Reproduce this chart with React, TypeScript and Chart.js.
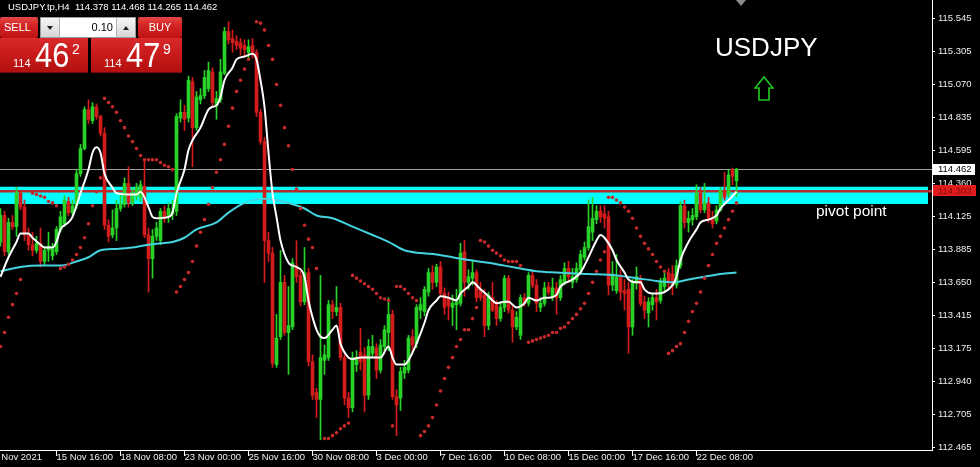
import React, { useEffect, useRef } from 'react';
import { Chart, registerables } from 'chart.js';

Chart.register(...registerables);

// ---------------- DATA ----------------
const chartName = 'USDJPY.tp,H4';
const symbolTitle = 'USDJPY';
const pivotLabel = 'pivot point';

const opens = [
  113.94, 114.13, 113.87, 114.08, 114.05, 114.29, 114.19, 113.99, 113.92, 113.88,
  113.93, 113.80, 113.88, 113.84, 113.87, 114.03, 114.07, 114.23, 114.15, 114.20,
  114.43, 114.61, 114.89, 114.81, 114.91, 114.84, 114.72, 114.06, 113.99, 114.04,
  114.18, 114.21, 114.36, 114.22, 114.27, 114.26, 114.34, 113.99, 113.82, 113.98,
  113.95, 114.16, 114.13, 114.14, 114.16, 114.83, 114.87, 114.83, 115.09, 114.76,
  114.96, 114.99, 115.04, 115.16, 114.92, 114.96, 115.15, 115.45, 115.40, 115.38,
  115.37, 115.35, 115.30, 115.35, 115.30, 114.87, 114.66, 113.95, 113.86, 113.06,
  113.26, 113.65, 113.29, 113.33, 113.77, 113.70, 113.51, 113.72, 113.08, 112.86,
  112.81, 113.09, 113.11, 113.49, 113.44, 113.47, 113.11, 112.82, 112.75, 113.06,
  113.15, 113.13, 112.84, 113.14, 113.18, 113.02, 113.19, 113.29, 113.42, 112.83,
  112.82, 113.00, 113.02, 113.26, 113.21, 113.45, 113.44, 113.58, 113.72, 113.65,
  113.76, 113.57, 113.54, 113.47, 113.49, 113.50, 113.87, 113.65, 113.68, 113.72,
  113.60, 113.56, 113.34, 113.54, 113.49, 113.39, 113.47, 113.68, 113.45, 113.33,
  113.27, 113.54, 113.50, 113.70, 113.63, 113.47, 113.50, 113.62, 113.55, 113.61,
  113.54, 113.65, 113.75, 113.65, 113.67, 113.74, 113.83, 113.90, 114.01, 114.10,
  114.16, 114.14, 114.12, 113.63, 113.59, 113.69, 113.59, 113.60, 113.33, 113.65,
  113.67, 113.51, 113.43, 113.49, 113.54, 113.52, 113.62, 113.72, 113.71, 113.63,
  113.77, 114.20, 114.08, 114.10, 114.12, 114.29, 114.17, 114.22, 114.11, 114.09,
  114.17, 114.31, 114.28, 114.46, 114.378,
];
const highs = [
  114.18, 114.16, 114.11, 114.13, 114.33, 114.31, 114.24, 114.04, 114.01, 113.98,
  114.04, 113.91, 114.01, 113.93, 114.05, 114.16, 114.27, 114.26, 114.24, 114.46,
  114.64, 114.91, 114.96, 114.94, 114.93, 114.85, 114.76, 114.10, 114.17, 114.24,
  114.28, 114.40, 114.48, 114.33, 114.36, 114.38, 114.53, 114.04, 114.03, 114.08,
  114.18, 114.20, 114.22, 114.24, 114.86, 114.96, 114.92, 115.13, 115.12, 115.02,
  115.04, 115.17, 115.23, 115.19, 115.02, 115.25, 115.48, 115.52, 115.46, 115.42,
  115.40, 115.39, 115.39, 115.40, 115.32, 114.89, 114.69, 114.01, 113.90, 113.42,
  113.88, 113.70, 113.62, 113.82, 113.95, 113.75, 113.90, 113.75, 113.13, 112.89,
  113.70, 113.20, 113.52, 113.52, 113.62, 113.50, 113.13, 112.86, 113.15, 113.16,
  113.32, 113.18, 113.24, 113.27, 113.21, 113.24, 113.34, 113.54, 113.45, 112.88,
  113.04, 113.09, 113.27, 113.31, 113.49, 113.54, 113.62, 113.75, 113.77, 113.78,
  113.80, 113.61, 113.58, 113.56, 113.60, 113.93, 113.95, 113.74, 113.81, 113.74,
  113.65, 113.60, 113.58, 113.65, 113.52, 113.50, 113.70, 113.70, 113.49, 113.44,
  113.56, 113.57, 113.72, 113.74, 113.67, 113.54, 113.65, 113.65, 113.68, 113.65,
  113.70, 113.79, 113.80, 113.75, 113.79, 113.88, 113.94, 114.24, 114.26, 114.20,
  114.20, 114.20, 114.16, 113.80, 113.85, 113.74, 113.67, 113.65, 113.67, 113.76,
  113.70, 113.55, 113.54, 113.57, 113.60, 113.68, 113.72, 113.75, 113.77, 113.81,
  114.23, 114.24, 114.16, 114.18, 114.35, 114.33, 114.36, 114.26, 114.16, 114.20,
  114.33, 114.44, 114.46, 114.47, 114.468,
];
const lows = [
  113.91, 113.84, 113.85, 114.03, 113.98, 114.17, 113.95, 113.88, 113.84, 113.86,
  113.76, 113.77, 113.80, 113.81, 113.85, 114.01, 114.05, 114.13, 114.13, 114.18,
  114.41, 114.60, 114.79, 114.79, 114.82, 114.70, 114.03, 113.94, 113.97, 113.95,
  114.16, 114.19, 114.19, 114.20, 114.24, 114.23, 113.97, 113.58, 113.68, 113.95,
  113.92, 114.08, 114.08, 114.10, 114.13, 114.80, 114.74, 114.80, 114.48, 114.74,
  114.93, 114.97, 115.02, 114.92, 114.82, 114.94, 115.14, 115.36, 115.30, 115.32,
  115.28, 115.27, 115.26, 115.26, 114.84, 114.64, 113.65, 113.80, 113.04, 113.04,
  113.24, 113.27, 112.99, 113.31, 113.65, 113.48, 113.49, 113.05, 112.81, 112.68,
  112.52, 112.99, 113.09, 113.39, 113.41, 113.09, 112.77, 112.68, 112.72, 113.01,
  113.02, 112.72, 112.81, 113.11, 112.96, 113.00, 113.16, 113.16, 112.81, 112.55,
  112.73, 112.96, 113.00, 113.15, 113.18, 113.39, 113.41, 113.55, 113.60, 113.62,
  113.55, 113.42, 113.38, 113.34, 113.31, 113.48, 113.55, 113.60, 113.63, 113.51,
  113.52, 113.26, 113.31, 113.44, 113.34, 113.37, 113.44, 113.43, 113.22, 113.31,
  113.24, 113.48, 113.48, 113.61, 113.44, 113.44, 113.48, 113.56, 113.52, 113.42,
  113.52, 113.63, 113.65, 113.61, 113.65, 113.72, 113.81, 113.88, 113.95, 114.07,
  114.08, 114.04, 113.56, 113.59, 113.57, 113.52, 113.45, 113.14, 113.27, 113.60,
  113.48, 113.39, 113.33, 113.45, 113.38, 113.50, 113.58, 113.60, 113.56, 113.61,
  113.75, 114.04, 114.01, 114.06, 114.10, 114.15, 114.15, 114.08, 114.04, 114.07,
  114.16, 114.24, 114.26, 114.35, 114.265,
];
const closes = [
  114.13, 113.87, 114.08, 114.05, 114.29, 114.19, 113.99, 113.92, 113.88, 113.93,
  113.80, 113.88, 113.91, 113.89, 114.03, 114.12, 114.24, 114.15, 114.20, 114.43,
  114.61, 114.89, 114.82, 114.91, 114.84, 114.72, 114.06, 113.98, 114.04, 114.18,
  114.21, 114.36, 114.22, 114.29, 114.33, 114.35, 113.99, 113.82, 113.98, 114.04,
  114.16, 114.11, 114.18, 114.16, 114.84, 114.87, 114.82, 115.10, 114.76, 114.98,
  114.99, 115.12, 115.17, 114.94, 114.97, 115.16, 115.45, 115.39, 115.37, 115.35,
  115.33, 115.32, 115.34, 115.30, 114.87, 114.66, 113.95, 113.86, 113.07, 113.25,
  113.65, 113.29, 113.34, 113.79, 113.69, 113.51, 113.72, 113.08, 112.84, 112.81,
  113.11, 113.13, 113.49, 113.44, 113.47, 113.11, 112.82, 112.75, 113.11, 113.11,
  113.08, 112.84, 113.19, 113.19, 113.02, 113.20, 113.31, 113.42, 112.83, 112.77,
  113.01, 113.04, 113.25, 113.20, 113.47, 113.49, 113.60, 113.72, 113.65, 113.76,
  113.57, 113.47, 113.48, 113.50, 113.51, 113.86, 113.65, 113.69, 113.72, 113.54,
  113.54, 113.34, 113.56, 113.45, 113.39, 113.47, 113.68, 113.45, 113.33, 113.40,
  113.54, 113.50, 113.70, 113.63, 113.50, 113.50, 113.61, 113.58, 113.61, 113.54,
  113.67, 113.75, 113.69, 113.69, 113.75, 113.85, 113.90, 114.05, 114.11, 114.16,
  114.12, 114.11, 113.63, 113.71, 113.69, 113.58, 113.57, 113.33, 113.65, 113.69,
  113.50, 113.45, 113.51, 113.54, 113.51, 113.65, 113.68, 113.65, 113.63, 113.77,
  114.20, 114.08, 114.11, 114.13, 114.29, 114.17, 114.22, 114.11, 114.07, 114.17,
  114.31, 114.26, 114.42, 114.41, 114.462,
];

// Parabolic SAR dots (null = no dot visible)
const sarValues = [
  113.19, 113.29, 113.40, 113.49, 113.57, 113.67, null, null, 114.29, 114.28,
  114.27, 114.26, 114.23, 114.22, 114.20, 113.75, 113.76, 113.78, 113.81, 113.85,
  113.90, 113.97, 114.07, 114.20, 114.30, 114.40, 114.97, 114.94, 114.91, 114.87,
  114.81, 114.76, 114.70, 114.66, 114.61, 114.56, 114.53, 114.53, 114.53, 114.53,
  114.51, 114.49, 114.48, 114.46, 113.58, 113.62, 113.67, 113.72, 113.80, 113.91,
  114.01, 114.10, 114.21, 114.33, 114.44, 114.53, 114.64, 114.77, 114.90, 115.02,
  115.10, 115.18, 115.25, null, 115.52, 115.51, 115.46, 115.35, 115.25, 115.07,
  114.92, 114.76, 114.63, 114.46, 114.32, 114.18, 114.06, 113.96, 113.90, 113.75,
  null, 112.53, 112.53, 112.55, 112.57, 112.60, 112.62, 112.64, 113.70, 113.68,
  113.66, 113.64, 113.62, 113.60, 113.57, 113.54, 113.53, 113.52, 112.62, 113.62,
  113.62, 113.60, 113.57, 113.54, 113.52, 112.55, 112.58, 112.62, 112.68, 112.77,
  112.87, 112.96, 113.04, 113.11, 113.19, 113.24, 113.31, 113.31, 113.39, 113.47,
  113.95, 113.94, 113.91, 113.88, 113.86, 113.84, 113.81, 113.80, 113.80, 113.80,
  113.77, null, 113.22, 113.23, 113.24, 113.25, 113.26, 113.27, 113.29, 113.29,
  113.32, 113.33, 113.36, 113.39, 113.42, 113.46, 113.50, 113.57, 113.65, 113.73,
  113.81, 113.87, 114.26, 114.26, 114.24, 114.22, 114.19, 114.16, 114.11, 114.04,
  113.98, 113.93, 113.89, 113.85, 113.80, 113.76, 113.73, 113.14, 113.16, 113.19,
  113.21, 113.29, 113.37, 113.44, 113.50, 113.58, 113.68, 113.77, 113.85, 113.93,
  113.98, 114.04, 114.10, 114.16, 114.22,
];

// Fast moving average (white), read at these bar indices
const fastMaBars = [
  0, 2, 4, 5, 7, 8, 10, 11, 13, 14, 15, 17, 18, 20, 22, 23, 24, 25, 26, 28,
  29, 32, 34, 35, 37, 38, 39, 42, 43, 44, 46, 47, 48, 50, 52, 53, 54, 55, 56, 58,
  59, 61, 63, 64, 65, 66, 67, 68, 69, 70, 72, 73, 74, 76, 77, 79, 80, 81, 83, 84,
  85, 87, 88, 90, 92, 95, 97, 98, 99, 101, 102, 104, 106, 107, 109, 110, 112, 114, 115, 117,
  118, 120, 122, 123, 124, 126, 127, 129, 131, 132, 134, 136, 137, 139, 140, 143, 145, 147, 149, 150,
  151, 153, 154, 156, 157, 159, 160, 161, 163, 164, 166, 168, 169, 170, 172, 174, 175, 177, 179, 180,
  182, 184,
];
const fastMaValues = [
  113.69, 113.83, 113.94, 114.00, 114.00, 113.97, 113.92, 113.90, 113.90, 113.94,
  114.03, 114.08, 114.12, 114.29, 114.46, 114.58, 114.62, 114.58, 114.43, 114.33,
  114.29, 114.28, 114.28, 114.30, 114.19, 114.12, 114.11, 114.12, 114.15, 114.29,
  114.46, 114.60, 114.67, 114.76, 114.89, 114.91, 114.92, 114.98, 115.10, 115.19,
  115.25, 115.27, 115.29, 115.25, 115.10, 114.91, 114.58, 114.29, 114.12, 113.95,
  113.79, 113.77, 113.76, 113.69, 113.52, 113.31, 113.26, 113.25, 113.31, 113.34,
  113.21, 113.11, 113.10, 113.11, 113.11, 113.11, 113.19, 113.11, 113.06, 113.06,
  113.09, 113.21, 113.36, 113.45, 113.52, 113.55, 113.54, 113.52, 113.57, 113.62,
  113.65, 113.60, 113.55, 113.52, 113.50, 113.51, 113.51, 113.47, 113.50, 113.54,
  113.52, 113.54, 113.54, 113.56, 113.62, 113.67, 113.72, 113.83, 113.95, 113.99,
  113.97, 113.88, 113.81, 113.72, 113.67, 113.65, 113.65, 113.60, 113.57, 113.57,
  113.58, 113.63, 113.69, 113.81, 113.94, 114.03, 114.08, 114.10, 114.13, 114.18,
  114.24, 114.30,
];

// Slow moving average (cyan)
const slowMaBars = [
  0, 5, 10, 15, 19, 22, 25, 29, 33, 37, 40, 43, 46, 49, 54, 57, 61, 66, 72, 76,
  79, 83, 88, 93, 97, 101, 105, 109, 113, 117, 122, 126, 130, 134, 139, 147, 154, 159, 164, 168,
  172, 176, 180, 184,
];
const slowMaValues = [
  113.73, 113.76, 113.77, 113.77, 113.80, 113.83, 113.88, 113.89, 113.90, 113.92,
  113.93, 113.94, 113.97, 114.03, 114.08, 114.15, 114.22, 114.25, 114.22, 114.18,
  114.13, 114.11, 114.05, 113.99, 113.94, 113.88, 113.86, 113.85, 113.83, 113.81,
  113.79, 113.77, 113.75, 113.73, 113.72, 113.71, 113.70, 113.68, 113.66, 113.65,
  113.67, 113.69, 113.71, 113.72,
];

const priceTicks = [
  115.545, 115.305, 115.07, 114.835, 114.595, 114.36, 114.125,
  113.885, 113.65, 113.415, 113.175, 112.94, 112.705, 112.465,
];
const timeTickBars = [-3.1, 14, 30, 46, 62, 78, 94, 110, 126, 142, 158, 174];
const timeTickLabels = [
  '12 Nov 2021', '15 Nov 16:00', '18 Nov 08:00', '23 Nov 00:00', '25 Nov 16:00',
  '30 Nov 08:00', '3 Dec 00:00', '7 Dec 16:00', '10 Dec 08:00', '15 Dec 00:00',
  '17 Dec 16:00', '22 Dec 08:00',
];

const pivotZone = [114.212, 114.336];
const pivotLevel = 114.303;
const bidPrice = 114.462;
const askPrice = 114.479;
const lotSize = '0.10';

const yMin = 112.447;
const yMax = 115.676;
const xMin = -0.125;
const xMax = 232.875;

// ---------------- STYLE ----------------
const FONT = '"Liberation Sans", Arial, sans-serif';
const BULL = '#28d228';
const BEAR = '#d41c1c';
const SAR_COLOR = '#c62a2a';
const FAST_COLOR = '#ffffff';
const SLOW_COLOR = '#45d3df';
const AXIS_COLOR = '#ffffff';
const TEXT_COLOR = '#eeeeee';

const overlayPlugin = {
  id: 'mtOverlay',
  beforeDraw(chart: any) {
    const { ctx, width, height } = chart;
    ctx.save();
    ctx.fillStyle = '#000000';
    ctx.fillRect(0, 0, width, height);
    ctx.restore();
  },
  beforeDatasetsDraw(chart: any) {
    const { ctx, chartArea } = chart;
    const y = chart.scales.y;
    const top = y.getPixelForValue(pivotZone[1]);
    const bot = y.getPixelForValue(pivotZone[0]);
    ctx.save();
    ctx.fillStyle = '#00ffff';
    ctx.fillRect(chartArea.left, top, chartArea.right - chartArea.left - 4, bot - top);
    const by = Math.round(y.getPixelForValue(bidPrice)) + 0.5;
    ctx.strokeStyle = '#a0a0a0';
    ctx.lineWidth = 1;
    ctx.beginPath();
    ctx.moveTo(chartArea.left, by);
    ctx.lineTo(chartArea.right, by);
    ctx.stroke();
    const py = y.getPixelForValue(pivotLevel);
    ctx.strokeStyle = '#b42c2c';
    ctx.lineWidth = 2.5;
    ctx.beginPath();
    ctx.moveTo(chartArea.left, py);
    ctx.lineTo(chartArea.right, py);
    ctx.stroke();
    ctx.restore();
  },
  afterDatasetsDraw(chart: any) {
    const { ctx } = chart;
    const y = chart.scales.y;
    const bot = y.getPixelForValue(pivotZone[0]);
    ctx.save();
    ctx.fillStyle = '#ffffff';
    ctx.font = `15.5px ${FONT}`;
    ctx.textBaseline = 'alphabetic';
    ctx.textAlign = 'left';
    ctx.fillText(pivotLabel, 816, bot + 11.7);
    ctx.restore();
  },
  afterDraw(chart: any) {
    const { ctx, chartArea } = chart;
    const y = chart.scales.y;
    const x0 = chartArea.right + 1;
    ctx.save();
    ctx.font = `9.5px ${FONT}`;
    ctx.textBaseline = 'middle';
    ctx.textAlign = 'left';
    const yb = y.getPixelForValue(bidPrice);
    ctx.fillStyle = '#ffffff';
    ctx.fillRect(x0, Math.round(yb) - 5, 42, 11);
    ctx.fillStyle = '#000000';
    ctx.fillText(bidPrice.toFixed(3), x0 + 5, yb + 0.5);
    const yp = y.getPixelForValue(pivotLevel);
    ctx.fillStyle = '#e01c1c';
    ctx.fillRect(x0, Math.round(yp) - 6, 43, 11);
    ctx.fillStyle = '#800c0c';
    ctx.fillText(pivotLevel.toFixed(3), x0 + 5, yp + 0.5);
    ctx.restore();
  },
};

function splitPrice(p: number) {
  const s = p.toFixed(3);
  return { big: s.slice(0, 3), mid: s.slice(4, 6), pip: s.slice(6, 7) };
}

const redGrad = 'linear-gradient(to bottom, #e64646 0%, #d42424 40%, #bf1414 100%)';
const boxGrad = 'linear-gradient(to bottom, #d82a2a 0%, #c81a1a 50%, #b31010 100%)';

function PriceBox({ left, width, price }: { left: number; width: number; price: number }) {
  const p = splitPrice(price);
  return (
    <div style={{ position: 'absolute', left, top: 38, width, height: 35, background: boxGrad, borderBottom: '1px solid #7a0808', boxSizing: 'border-box' }}>
      <span style={{ position: 'absolute', left: 13, top: 19.5, font: `11px ${FONT}`, lineHeight: '11px', color: '#fff' }}>{p.big}</span>
      <span style={{ position: 'absolute', left: 35, top: -1, font: `35px ${FONT}`, lineHeight: '35px', color: '#fff', transform: 'scaleX(0.88)', transformOrigin: 'left top' }}>{p.mid}</span>
      <span style={{ position: 'absolute', left: 72, top: 3.5, font: `14px ${FONT}`, lineHeight: '14px', color: '#fff' }}>{p.pip}</span>
    </div>
  );
}

export default function App() {
  const ref = useRef<HTMLCanvasElement | null>(null);

  useEffect(() => {
    document.body.style.margin = '0';
    document.body.style.background = '#000';
    const canvas = ref.current;
    if (!canvas) return;

    const candleColors = opens.map((o, i) => (closes[i] >= o ? BULL : BEAR));
    const wickData = opens.map((_, i) => ({ x: i, y: [lows[i], highs[i]] }));
    const bodyData = opens.map((o, i) => ({ x: i, y: [o, closes[i]] }));
    const sarData = sarValues
      .map((v, i) => (v === null ? null : { x: i, y: v }))
      .filter((d) => d !== null);
    const fastData = fastMaBars.map((b, i) => ({ x: b, y: fastMaValues[i] }));
    const slowData = slowMaBars.map((b, i) => ({ x: b, y: slowMaValues[i] }));

    const chart = new Chart(canvas, {
      type: 'bar',
      data: {
        datasets: [
          {
            type: 'bar',
            data: wickData as any,
            backgroundColor: candleColors,
            borderWidth: 0,
            grouped: false,
            barThickness: 1,
            maxBarThickness: 1,
            minBarLength: 1,
            order: 5,
          } as any,
          {
            type: 'bar',
            data: bodyData as any,
            backgroundColor: candleColors,
            borderWidth: 0,
            grouped: false,
            barThickness: 3,
            maxBarThickness: 3,
            minBarLength: 1,
            order: 4,
          } as any,
          {
            type: 'line',
            data: slowData as any,
            borderColor: SLOW_COLOR,
            borderWidth: 2,
            pointRadius: 0,
            cubicInterpolationMode: 'monotone',
            order: 3,
          } as any,
          {
            type: 'line',
            data: fastData as any,
            borderColor: FAST_COLOR,
            borderWidth: 2,
            pointRadius: 0,
            cubicInterpolationMode: 'monotone',
            order: 2,
          } as any,
          {
            type: 'line',
            data: sarData as any,
            showLine: false,
            pointRadius: 1.8,
            pointBackgroundColor: SAR_COLOR,
            pointBorderWidth: 0,
            order: 1,
          } as any,
        ],
      },
      options: {
        responsive: false,
        animation: false,
        devicePixelRatio: 1,
        events: [],
        layout: { padding: 0, autoPadding: false },
        plugins: { legend: { display: false }, tooltip: { enabled: false } },
        scales: {
          x: {
            type: 'linear',
            min: xMin,
            max: xMax,
            bounds: 'data',
            offset: false,
            grid: { display: true, drawOnChartArea: false, drawTicks: true, tickLength: 6, color: AXIS_COLOR, offset: false },
            border: { display: true, color: AXIS_COLOR, width: 1 },
            ticks: {
              color: TEXT_COLOR,
              font: { family: FONT, size: 9.5 },
              align: 'start',
              padding: -4,
              autoSkip: false,
              maxRotation: 0,
              minRotation: 0,
              callback: (_v: any, i: number) => timeTickLabels[i] ?? '',
            },
            afterBuildTicks: (s: any) => {
              s.ticks = timeTickBars.map((v) => ({ value: v }));
            },
            afterFit: (s: any) => {
              s.height = 17;
              s.paddingLeft = 0;
              s.paddingRight = 0;
            },
          } as any,
          y: {
            type: 'linear',
            position: 'right',
            min: yMin,
            max: yMax,
            bounds: 'data',
            grid: { display: true, drawOnChartArea: false, drawTicks: true, tickLength: 3, color: AXIS_COLOR },
            border: { display: true, color: AXIS_COLOR, width: 1 },
            ticks: {
              color: TEXT_COLOR,
              font: { family: FONT, size: 9.5 },
              padding: 3,
              autoSkip: false,
              callback: (v: any) => Number(v).toFixed(3),
            },
            afterBuildTicks: (s: any) => {
              s.ticks = priceTicks.map((v) => ({ value: v }));
            },
            afterFit: (s: any) => {
              s.width = 48;
              s.paddingTop = 0;
              s.paddingBottom = 0;
            },
          } as any,
        },
      },
      plugins: [overlayPlugin],
    } as any);

    return () => chart.destroy();
  }, []);

  const headerText = `${chartName}  ${opens[opens.length - 1].toFixed(3)} ${highs[highs.length - 1].toFixed(3)} ${lows[lows.length - 1].toFixed(3)} ${closes[closes.length - 1].toFixed(3)}`;

  return (
    <div style={{ position: 'relative', width: 980, height: 467, background: '#000', overflow: 'hidden' }}>
      <canvas ref={ref} width={980} height={467} style={{ display: 'block', width: 980, height: 467 }} />

      {/* header */}
      <div style={{ position: 'absolute', left: 8, top: 2.3, font: `9.5px ${FONT}`, lineHeight: '9.5px', color: '#fff', whiteSpace: 'pre' }}>{headerText}</div>

      {/* chart shift marker */}
      <div style={{ position: 'absolute', left: 736, top: 0, width: 0, height: 0, borderLeft: '5px solid transparent', borderRight: '5px solid transparent', borderTop: '6px solid #8a8a8a' }} />

      {/* one click trading panel */}
      <div style={{ position: 'absolute', left: 0, top: 17, width: 38, height: 21, background: redGrad, color: '#fff', font: `11px ${FONT}`, lineHeight: '21px', paddingLeft: 4, boxSizing: 'border-box', borderRadius: 2 }}>SELL</div>
      <div style={{ position: 'absolute', left: 40, top: 17, width: 96, height: 21, background: '#f2f2f2', border: '1px solid #9a9a9a', boxSizing: 'border-box', display: 'flex' }}>
        <div style={{ width: 19, height: 19, background: 'linear-gradient(#f6f6f6, #d6d6d6)', borderRight: '1px solid #b0b0b0', boxSizing: 'border-box', display: 'flex', alignItems: 'center', justifyContent: 'center' }}>
          <div style={{ width: 0, height: 0, borderLeft: '3.5px solid transparent', borderRight: '3.5px solid transparent', borderTop: '4px solid #222' }} />
        </div>
        <div style={{ width: 56, height: 19, background: '#fff', color: '#000', font: `11px ${FONT}`, lineHeight: '19px', textAlign: 'right', paddingRight: 3, boxSizing: 'border-box' }}>{lotSize}</div>
        <div style={{ width: 19, height: 19, background: 'linear-gradient(#f6f6f6, #d6d6d6)', borderLeft: '1px solid #b0b0b0', boxSizing: 'border-box', display: 'flex', alignItems: 'center', justifyContent: 'center' }}>
          <div style={{ width: 0, height: 0, borderLeft: '3.5px solid transparent', borderRight: '3.5px solid transparent', borderBottom: '4px solid #222' }} />
        </div>
      </div>
      <div style={{ position: 'absolute', left: 138, top: 17, width: 44, height: 21, background: redGrad, color: '#fff', font: `11px ${FONT}`, lineHeight: '21px', textAlign: 'center', borderRadius: 2 }}>BUY</div>
      <PriceBox left={0} width={88} price={bidPrice} />
      <PriceBox left={91} width={91} price={askPrice} />

      {/* symbol title */}
      <div style={{ position: 'absolute', left: 715, top: 33.7, font: `26px ${FONT}`, lineHeight: '26px', color: '#fff' }}>{symbolTitle}</div>

      {/* up arrow */}
      <svg style={{ position: 'absolute', left: 754, top: 76 }} width={20} height={26} viewBox="0 0 20 26">
        <path d="M10 1 L19 12 L15 12 L15 24 L5 24 L5 12 L1 12 Z" fill="none" stroke="#1fc21f" strokeWidth={1.7} />
      </svg>
    </div>
  );
}
